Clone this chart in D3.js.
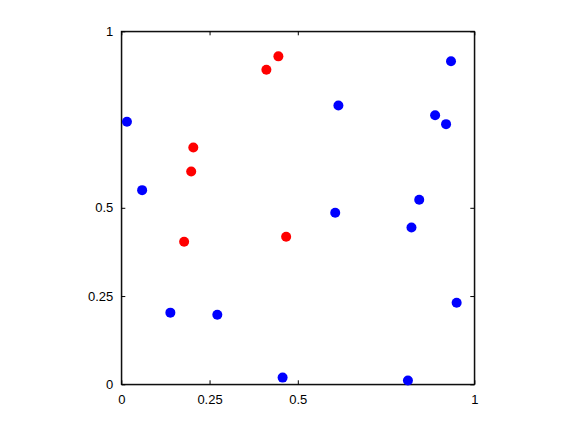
<!DOCTYPE html>
<html>
<head>
<meta charset="utf-8">
<script src="https://cdn.jsdelivr.net/npm/d3@7"></script>
<style>
  body { margin: 0; background: #fff; }
  text { font-family: "Liberation Sans", Arial, sans-serif; fill: #000; }
</style>
</head>
<body>
<div id="chart"></div>
<script>
// blue group
const blueX = [0.016, 0.059, 0.139, 0.272, 0.457, 0.615, 0.606, 0.812, 0.822, 0.844, 0.889, 0.920, 0.934, 0.950];
const blueY = [0.744, 0.550, 0.203, 0.197, 0.019, 0.790, 0.486, 0.011, 0.444, 0.523, 0.762, 0.737, 0.915, 0.231];
// red group
const redX = [0.204, 0.198, 0.178, 0.411, 0.445, 0.467];
const redY = [0.671, 0.603, 0.404, 0.891, 0.929, 0.418];
const tickVals = [0, 0.25, 0.5, 1];
const tickLabels = ["0", "0.25", "0.5", "1"];

const width = 576, height = 432;
const plotLeft = 121.3, plotTop = 31.3, size = 353;

const svg = d3.select("#chart").append("svg")
  .attr("width", width).attr("height", height);

const x = d3.scaleLinear().domain([0, 1]).range([plotLeft, plotLeft + size]);
const y = d3.scaleLinear().domain([0, 1]).range([plotTop + size, plotTop]);

const fmt = d => tickLabels[tickVals.indexOf(d)];

// axes: ticks inward, labels only on bottom/left
svg.append("g").attr("transform", `translate(0,${plotTop + size})`)
  .call(d3.axisBottom(x).tickValues(tickVals).tickSizeInner(-4).tickSizeOuter(0).tickPadding(10).tickFormat(fmt));
svg.append("g").attr("transform", `translate(${plotLeft},0)`)
  .call(d3.axisLeft(y).tickValues(tickVals).tickSizeInner(-4).tickSizeOuter(0).tickPadding(8).tickFormat(fmt));
svg.append("g").attr("transform", `translate(0,${plotTop})`)
  .call(d3.axisTop(x).tickValues(tickVals).tickSizeInner(-4).tickSizeOuter(0).tickFormat(""));
svg.append("g").attr("transform", `translate(${plotLeft + size},0)`)
  .call(d3.axisRight(y).tickValues(tickVals).tickSizeInner(-4).tickSizeOuter(0).tickFormat(""));

svg.selectAll(".domain").attr("stroke", "#000");
svg.selectAll(".tick line").attr("stroke", "#000");
svg.selectAll(".tick text").attr("font-size", 13).attr("fill", "#000");

svg.append("rect")
  .attr("x", plotLeft).attr("y", plotTop).attr("width", size).attr("height", size)
  .attr("fill", "none").attr("stroke", "#000").attr("stroke-width", 1);

svg.append("g").selectAll("circle")
  .data(blueX.map((v, i) => [v, blueY[i]]))
  .join("circle")
  .attr("cx", d => x(d[0])).attr("cy", d => y(d[1]))
  .attr("r", 5).attr("fill", "#0000ff");

svg.append("g").selectAll("circle")
  .data(redX.map((v, i) => [v, redY[i]]))
  .join("circle")
  .attr("cx", d => x(d[0])).attr("cy", d => y(d[1]))
  .attr("r", 5).attr("fill", "#ff0000");
</script>
</body>
</html>
